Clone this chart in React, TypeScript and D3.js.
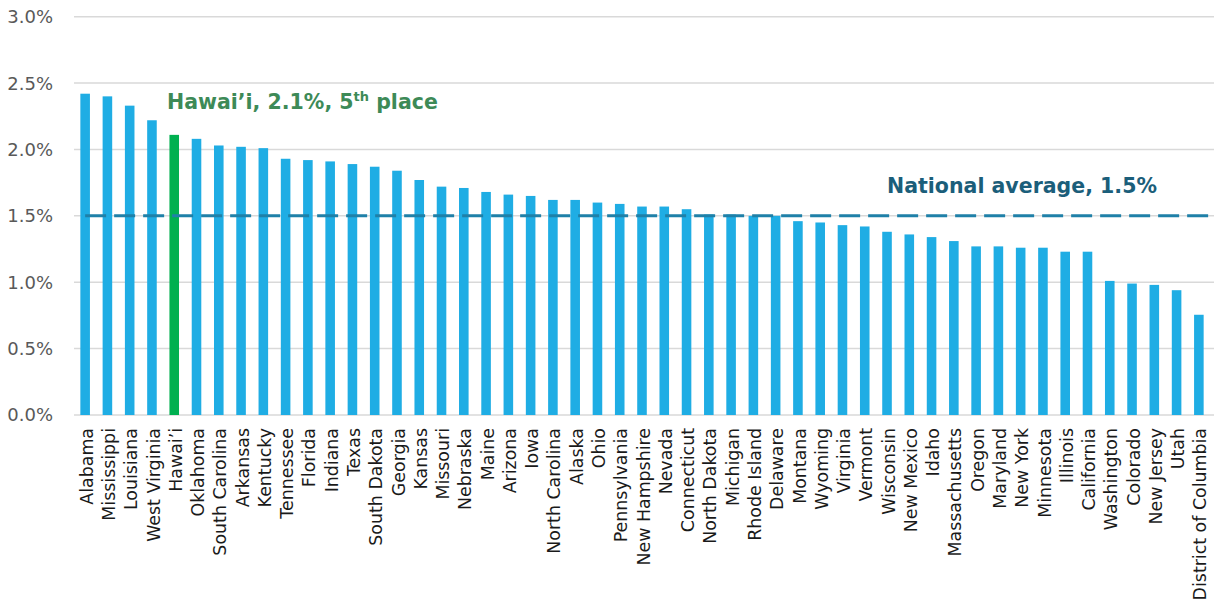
import * as React from 'react'
import { scaleBand, scaleLinear } from 'd3'

const states = [
  'Alabama', 'Mississippi', 'Louisiana', 'West Virginia', 'Hawai\u2019i', 'Oklahoma', 'South Carolina',
  'Arkansas', 'Kentucky', 'Tennessee', 'Florida', 'Indiana', 'Texas', 'South Dakota', 'Georgia',
  'Kansas', 'Missouri', 'Nebraska', 'Maine', 'Arizona', 'Iowa', 'North Carolina', 'Alaska', 'Ohio',
  'Pennsylvania', 'New Hampshire', 'Nevada', 'Connecticut', 'North Dakota', 'Michigan', 'Rhode Island',
  'Delaware', 'Montana', 'Wyoming', 'Virginia', 'Vermont', 'Wisconsin', 'New Mexico', 'Idaho',
  'Massachusetts', 'Oregon', 'Maryland', 'New York', 'Minnesota', 'Illinois', 'California',
  'Washington', 'Colorado', 'New Jersey', 'Utah', 'District of Columbia',
]

const shares = [
  2.42, 2.40, 2.33, 2.22, 2.11, 2.08, 2.03,
  2.02, 2.01, 1.93, 1.92, 1.91, 1.89, 1.87, 1.84,
  1.77, 1.72, 1.71, 1.68, 1.66, 1.65, 1.62, 1.62, 1.60,
  1.59, 1.57, 1.57, 1.55, 1.51, 1.51, 1.50,
  1.50, 1.46, 1.45, 1.43, 1.42, 1.38, 1.36, 1.34,
  1.31, 1.27, 1.27, 1.26, 1.26, 1.23, 1.23,
  1.01, 0.99, 0.98, 0.94, 0.755,
]

const yTicks = [0, 0.5, 1.0, 1.5, 2.0, 2.5, 3.0]
const nationalAverage = 1.5
const highlight = 'Hawai\u2019i'

const W = 1214
const H = 605
const font = "'DejaVu Sans', sans-serif"

export default function App() {
  const x = scaleBand<string>().domain(states).range([74, 1210]).paddingInner(0.57).paddingOuter(0.285)
  const y = scaleLinear().domain([0, 3]).range([415, 16.7])

  return (
    <svg width={W} height={H} style={{ position: 'absolute', left: 0, top: 0, background: '#fff' }}>
      {yTicks.map((t) => (
        <g key={t}>
          <line x1={74} x2={1214} y1={y(t)} y2={y(t)} stroke="#d9d9d9" strokeWidth={1.5} />
          <text x={53} y={y(t)} dy="0.36em" textAnchor="end" fontFamily={font} fontSize={18} fill="#595959">
            {t.toFixed(1)}%
          </text>
        </g>
      ))}
      {states.map((s, i) => (
        <rect
          key={s}
          x={x(s)}
          y={y(shares[i])}
          width={x.bandwidth()}
          height={y(0) - y(shares[i])}
          fill={s === highlight ? '#00b050' : '#1fade4'}
        />
      ))}
      <line
        x1={(x(states[0]) ?? 0) + x.bandwidth() / 2}
        x2={1214}
        y1={y(nationalAverage)}
        y2={y(nationalAverage)}
        stroke="#1f80a8"
        strokeWidth={3}
        strokeDasharray="21 8"
      />
      {states.map((s) => {
        const cx = (x(s) ?? 0) + x.bandwidth() / 2
        return (
          <text
            key={s}
            transform={`translate(${cx + 1.5},428) rotate(-90)`}
            dy="0.35em"
            textAnchor="end"
            fontFamily={font}
            fontSize={17.4}
            fill="#1a1a1a"
          >
            {s}
          </text>
        )
      })}
      <text x={167} y={109} fontFamily={font} fontSize={20.5} fontWeight="bold" fill="#3d8a57">
        Hawai’i, 2.1%, 5<tspan dy={-8} fontSize={13}>th</tspan>
        <tspan dy={8}> place</tspan>
      </text>
      <text x={1022} y={193} textAnchor="middle" fontFamily={font} fontSize={20.5} fontWeight="bold" fill="#1b5e7a">
        National average, 1.5%
      </text>
    </svg>
  )
}
